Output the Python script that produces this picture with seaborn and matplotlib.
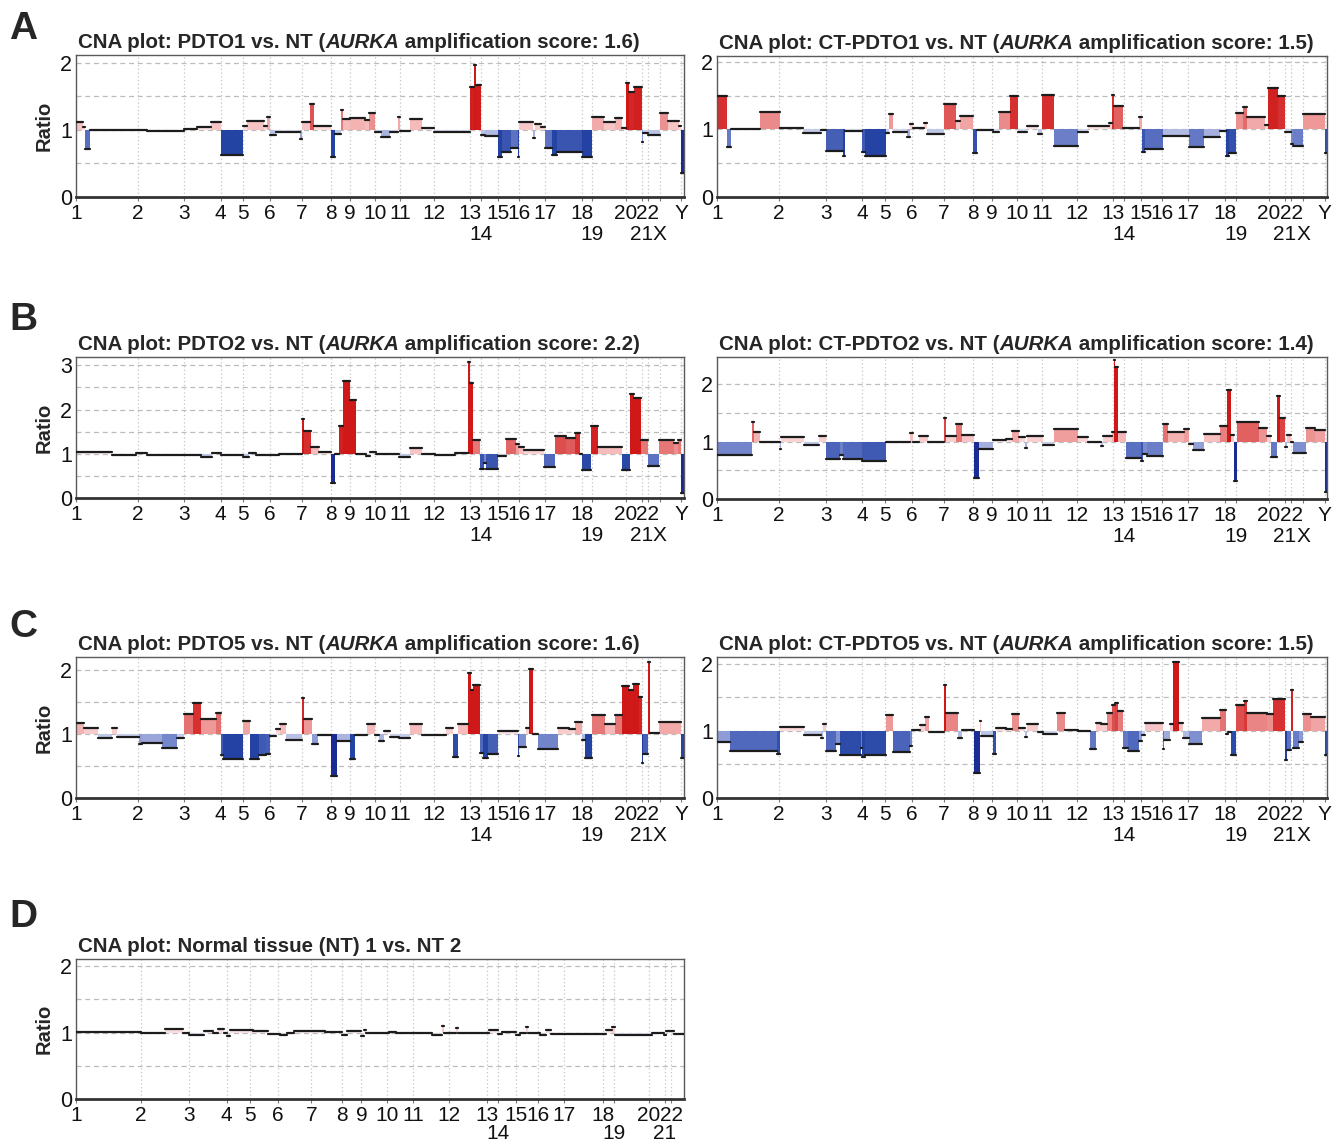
import numpy as np
import pandas as pd
import matplotlib
matplotlib.use("Agg")
import matplotlib.pyplot as plt
import seaborn as sns
from matplotlib.colors import LinearSegmentedColormap, Normalize

sns.set_theme(style="white")
plt.rcParams["font.family"] = ["Liberation Sans", "DejaVu Sans"]
TICK_FONT = ["Liberation Sans Narrow", "Liberation Sans", "DejaVu Sans"]

# Chromosome start positions on the plot's genome axis (0..1000)
CHROMS = ["1", "2", "3", "4", "5", "6", "7", "8", "9", "10", "11", "12",
          "13", "14", "15", "16", "17", "18", "19", "20", "21", "22", "X", "Y"]
CHROM_START = [0, 102, 178, 238, 275, 319, 372, 420, 451, 492, 533, 590,
               649, 667, 695, 730, 772, 833, 850, 905, 931, 941, 961, 996]
GENOME_END = 1000
AUTOSOME_END = 961
SECOND_ROW = ["14", "19", "21", "X"]

# Segments: (start, end, ratio)
pdto1 = [(0, 12, 1.12), (12, 15, 1.045), (15, 23, 0.71), (23, 117, 1.0), (117, 178, 0.98),
         (178, 199, 1.01), (199, 222, 1.045), (222, 238, 1.12), (238, 275, 0.62), (275, 282, 1.05),
         (282, 309, 1.13), (309, 315, 1.05), (315, 319, 1.19), (319, 330, 0.92), (330, 369, 0.965),
         (369, 372, 0.86), (372, 386, 1.12), (386, 391, 1.38), (391, 420, 1.06), (420, 426, 0.60),
         (426, 436, 0.93), (436, 440, 1.29), (440, 451, 1.155), (451, 476, 1.17), (476, 483, 1.15),
         (483, 492, 1.25), (492, 502, 0.96), (502, 517, 0.886), (517, 530, 0.96), (530, 533, 1.19),
         (533, 550, 0.985), (550, 569, 1.155), (569, 590, 1.02), (590, 649, 0.96), (649, 655, 1.63),
         (655, 658, 1.97), (658, 667, 1.66), (667, 674, 0.92), (674, 695, 0.90), (695, 702, 0.60),
         (702, 716, 0.66), (716, 727, 0.72), (727, 730, 0.60), (730, 752, 1.115), (752, 755, 0.88),
         (755, 765, 1.09), (765, 772, 1.045), (772, 784, 0.72), (784, 791, 0.62), (791, 833, 0.66),
         (833, 850, 0.60), (850, 869, 1.19), (869, 888, 1.12), (888, 899, 1.17), (899, 905, 1.02),
         (905, 910, 1.70), (910, 918, 1.57), (918, 931, 1.63), (931, 933, 0.81), (933, 941, 0.95),
         (941, 961, 0.92), (961, 975, 1.245), (975, 992, 1.13), (992, 996, 1.05), (996, 1000, 0.35)]

ct_pdto1 = [(0, 17, 1.49), (17, 23.5, 0.745), (23.5, 70, 1.0), (70, 103, 1.26), (103, 141, 1.025),
            (141, 170, 0.94), (170, 178, 0.99), (178, 206, 0.68), (206, 210, 0.60), (210, 238, 0.975),
            (238, 243, 0.67), (243, 277, 0.61), (277, 282, 0.94), (282, 288, 1.23), (288, 312, 0.96),
            (312, 317, 0.88), (317, 321, 1.08), (321, 339, 1.025), (339, 345, 1.09), (345, 372, 0.93),
            (372, 391, 1.37), (391, 399, 1.12), (399, 420, 1.2), (420, 426, 0.65), (426, 452, 0.99),
            (452, 462, 0.965), (462, 481, 1.26), (481, 494, 1.49), (494, 508, 0.96), (508, 526, 1.05),
            (526, 532, 0.93), (532, 533, 1.16), (533, 553, 1.51), (553, 591, 0.755), (591, 609, 0.96),
            (609, 643, 1.045), (643, 648, 1.1), (648, 650, 1.51), (650, 666, 1.35), (666, 691, 1.025),
            (691, 696, 1.19), (696, 702, 0.66), (702, 731, 0.71), (731, 774, 0.9), (774, 798, 0.74),
            (798, 824, 0.88), (824, 834, 0.975), (834, 840, 0.61), (840, 850, 0.65), (850, 862, 1.245),
            (862, 869, 1.33), (869, 898, 1.19), (898, 904, 1.07), (904, 919, 1.62), (919, 931, 1.49),
            (931, 941, 0.96), (941, 945, 0.78), (945, 960, 0.755), (960, 996, 1.23), (996, 1000, 0.65)]

pdto2 = [(0, 59, 1.03), (59, 99, 0.98), (99, 117, 1.01), (117, 205, 0.98), (205, 224, 0.93),
         (224, 239, 1.02), (239, 275, 0.965), (275, 285, 0.93), (285, 297, 1.02), (297, 334, 0.965),
         (334, 372, 0.99), (372, 376, 1.78), (376, 387, 1.51), (387, 400, 1.15), (400, 420, 1.04),
         (420, 426, 0.34), (426, 433, 0.99), (433, 439, 1.63), (439, 451, 2.64), (451, 461, 2.21),
         (461, 477, 0.99), (477, 484, 0.95), (484, 494, 1.04), (494, 532, 0.99), (532, 550, 0.93),
         (550, 569, 1.12), (569, 591, 0.99), (591, 624, 0.98), (624, 646, 1.02), (646, 649, 3.07),
         (649, 653, 2.6), (653, 665, 1.3), (665, 672, 0.66), (672, 675, 0.78), (675, 695, 0.66),
         (695, 707, 0.95), (707, 724, 1.34), (724, 729, 1.21), (729, 738, 1.15), (738, 771, 1.08),
         (771, 789, 0.7), (789, 807, 1.39), (807, 822, 1.36), (822, 829, 1.47), (829, 833, 1.0),
         (833, 848, 0.63), (848, 859, 1.62), (859, 899, 1.15), (899, 912, 0.63), (912, 918, 2.36),
         (918, 930, 2.27), (930, 941, 1.3), (941, 959, 0.72), (959, 984, 1.3), (984, 991, 1.25),
         (991, 996, 1.3), (996, 1000, 0.11)]

ct_pdto2 = [(0, 57, 0.77), (57, 61, 1.34), (61, 70, 1.17), (70, 103, 1.0), (103, 105, 0.87),
            (105, 143, 1.08), (143, 168, 0.94), (168, 178, 1.09), (178, 201, 0.69), (201, 206, 0.76),
            (206, 238, 0.70), (238, 277, 0.67), (277, 317, 0.995), (317, 321, 1.15), (321, 331, 1.0),
            (331, 346, 1.1), (346, 372, 1.0), (372, 376, 1.41), (376, 391, 1.09), (391, 402, 1.3),
            (402, 421, 1.12), (421, 429, 0.37), (429, 452, 0.88), (452, 474, 1.02), (474, 484, 1.05),
            (484, 495, 1.19), (495, 505, 1.075), (505, 509, 0.89), (509, 534, 1.09), (534, 553, 0.95),
            (553, 591, 1.22), (591, 609, 1.075), (609, 629, 1.0), (629, 633, 0.93), (633, 647, 1.09),
            (647, 650, 1.16), (650, 653, 2.43), (653, 657, 2.3), (657, 671, 1.16), (671, 695, 0.715),
            (695, 698, 0.66), (698, 705, 0.79), (705, 731, 0.755), (731, 740, 1.31), (740, 766, 1.17),
            (766, 774, 1.22), (774, 781, 0.96), (781, 798, 0.85), (798, 824, 1.14), (824, 836, 1.28),
            (836, 843, 1.9), (843, 847, 1.12), (847, 852, 0.32), (852, 888, 1.35), (888, 902, 1.24),
            (902, 909, 1.09), (909, 918, 0.74), (918, 923, 1.8), (923, 931, 1.41), (931, 934, 0.9),
            (934, 941, 1.12), (941, 945, 1.0), (945, 965, 0.8), (965, 981, 1.24), (981, 996, 1.21),
            (996, 1000, 0.12)]

pdto5 = [(0, 12.5, 1.17), (12.5, 37, 1.10), (37, 59, 0.93), (59, 67.5, 1.09), (67.5, 103, 0.95),
         (103, 109, 0.84), (109, 141, 0.86), (141, 167, 0.78), (167, 178, 0.94), (178, 192, 1.31),
         (192, 205.5, 1.48), (205.5, 231, 1.23), (231, 238, 1.32), (238, 242, 0.67), (242, 275, 0.60),
         (275, 286, 1.2), (286, 301, 0.6), (301, 312, 0.67), (312, 319, 0.68), (319, 329, 0.96),
         (329, 336, 1.07), (336, 345, 1.15), (345, 372, 0.91), (372, 374.5, 1.56), (374.5, 389, 1.23),
         (389, 398, 0.84), (398, 420, 0.98), (420, 429, 0.34), (429, 451, 0.89), (451, 459, 0.60),
         (459, 479, 0.99), (479, 492, 1.15), (492, 499, 0.98), (499, 506.5, 0.89), (506.5, 517.5, 1.04),
         (517.5, 532, 0.955), (532, 549, 0.94), (549, 569, 1.15), (569, 591, 0.99), (591, 609, 0.98),
         (609, 620, 1.09), (620, 628, 0.64), (628, 646, 1.15), (646, 649.6, 1.95), (649.6, 653.3, 1.69),
         (653.3, 665, 1.77), (665, 670, 0.7), (670, 679, 0.62), (679, 695, 0.68), (695, 727, 1.04),
         (727, 730, 0.65), (730, 741, 0.8), (741, 745, 1.09), (745, 752, 2.01), (752, 760, 1.0),
         (760, 793, 0.77), (793, 811, 1.1), (811, 822, 1.08), (822, 833, 1.19), (833, 838, 0.9),
         (838, 850, 0.62), (850, 870, 1.3), (870, 888, 1.16), (888, 899, 1.3), (899, 910, 1.75),
         (910, 917.5, 1.68), (917.5, 926, 1.78), (926, 931, 1.58), (931, 933, 0.55), (933, 941, 0.68),
         (941, 945, 2.13), (945, 959, 1.02), (959, 996, 1.19), (996, 1000, 0.62)]

ct_pdto5 = [(0, 21, 0.84), (21, 98, 0.70), (98, 103, 0.65), (103, 143, 1.06), (143, 170, 0.94),
            (170, 174, 0.9), (174, 178, 1.1), (178, 195, 0.70), (195, 201, 0.81), (201, 236, 0.64),
            (236, 238, 0.75), (238, 243, 0.61), (243, 277, 0.64), (277, 288, 1.23), (288, 317, 0.69),
            (317, 320, 0.78), (320, 333, 1.02), (333, 341, 1.08), (341, 348, 1.21), (348, 372, 0.98),
            (372, 376, 1.69), (376, 395, 1.27), (395, 402, 0.9), (402, 421, 1.02), (421, 431, 0.37),
            (431, 433, 1.14), (433, 452, 0.92), (452, 457, 0.65), (457, 474, 1.05), (474, 484, 1.03),
            (484, 495, 1.25), (495, 505, 1.05), (505, 509, 0.91), (509, 526, 1.1), (526, 534, 0.98),
            (534, 557, 0.955), (557, 571, 1.26), (571, 591, 1.02), (591, 612, 1.0), (612, 622, 0.73),
            (622, 629, 1.12), (629, 640, 1.1), (640, 648, 1.27), (648, 652, 1.39), (652, 657, 1.41),
            (657, 666, 1.29), (666, 673, 0.74), (673, 691, 0.70), (691, 696, 0.85), (696, 702, 0.94),
            (702, 731, 1.12), (731, 733, 0.73), (733, 743, 0.87), (743, 748, 1.1), (748, 757, 2.03),
            (757, 764, 1.12), (764, 774, 0.9), (774, 795, 0.8), (795, 824, 1.19), (824, 834, 1.31),
            (834, 838, 0.96), (838, 843, 0.99), (843, 850, 0.64), (850, 864, 1.39), (864, 869, 1.44),
            (869, 902, 1.27), (902, 912, 1.25), (912, 931, 1.47), (931, 934, 0.57), (934, 941, 0.72),
            (941, 945, 1.61), (945, 954, 0.75), (954, 961, 0.83), (961, 974, 1.25), (974, 996, 1.2),
            (996, 1000, 0.64)]

nt = [(0, 102, 1.005), (102, 140, 1.0), (140, 169, 1.05), (169, 178, 0.99), (178, 203, 0.97),
      (203, 216, 1.03), (216, 224, 0.99), (224, 234, 1.05), (234, 239, 0.99), (239, 244, 0.95),
      (244, 279, 1.04), (279, 304, 1.02), (304, 323, 0.985), (323, 333, 0.97), (333, 344, 1.0),
      (344, 393, 1.03), (393, 420, 1.01), (420, 428, 0.97), (428, 450, 1.03), (450, 455, 0.95),
      (455, 459, 1.04), (459, 494, 0.99), (494, 506, 1.01), (506, 563, 0.99), (563, 579, 0.97),
      (579, 582, 1.1), (582, 601, 1.0), (601, 604, 1.07), (604, 652, 1.0), (652, 667, 1.035),
      (667, 674, 0.98), (674, 696, 1.01), (696, 702, 0.97), (702, 712, 1.0), (712, 715, 1.08),
      (715, 734, 1.0), (734, 743, 0.96), (743, 750, 1.04), (750, 838, 0.98), (838, 847, 1.035),
      (847, 852, 1.09), (852, 911, 0.97), (911, 929, 0.99), (929, 933, 0.96), (933, 945, 1.02),
      (945, 961, 0.98)]

# ratio -> colour ramp (blue for loss, red for gain)
RATIO_NODES = [0.35, 0.62, 0.72, 0.85, 0.95, 1.0, 1.05, 1.15, 1.3, 1.45, 1.7]
NODE_COLORS = ["#1a2c94", "#2444a4", "#5d72c2", "#95a2d8", "#ccd2ec", "#f4f2f6",
               "#fbdede", "#f6bcbc", "#e67878", "#d83434", "#cf1818"]
lo, hi = RATIO_NODES[0], RATIO_NODES[-1]
cmap = LinearSegmentedColormap.from_list(
    "cna", [((v - lo) / (hi - lo), c) for v, c in zip(RATIO_NODES, NODE_COLORS)])
norm = Normalize(lo, hi, clip=True)

W, H = 1337, 1144
fig = plt.figure(figsize=(W / 100, H / 100), dpi=100)


def add_ax(x0, top, width, bottom):
    return fig.add_axes([x0 / W, 1 - bottom / H, width / W, (bottom - top) / H])


def draw_panel(ax, segs, ymax, yticks, xmax, title, score=None, ratio_label=True, row2_pad=17.5):
    df = pd.DataFrame(segs, columns=["start", "end", "ratio"])
    for c in CHROM_START:
        if 0 < c < xmax:
            ax.axvline(c, color="#c6c6c6", ls=(0, (1, 2)), lw=0.9, zorder=0)
    for y in np.arange(0.5, ymax, 0.5):
        ax.axhline(y, color="#bcbcbc", ls=(0, (4, 3)), lw=0.9, zorder=0)

    ax.bar(df["start"], df["ratio"] - 1, width=df["end"] - df["start"], bottom=1,
           align="edge", color=cmap(norm(df["ratio"].values)), linewidth=0, zorder=2)

    long = pd.DataFrame({
        "pos": np.r_[df["start"], df["end"]],
        "ratio": np.r_[df["ratio"], df["ratio"]],
        "seg": np.r_[df.index, df.index],
    })
    sns.lineplot(data=long, x="pos", y="ratio", units="seg", estimator=None,
                 color="#1c1c1c", lw=1.6, ax=ax, legend=False, zorder=3)

    ax.set_xlim(0, xmax)
    ax.set_ylim(0, ymax)
    ax.set_xlabel("")
    ax.set_ylabel("")

    shown = [(n, c) for n, c in zip(CHROMS, CHROM_START) if c < xmax]
    row1 = [(n, c) for n, c in shown if n not in SECOND_ROW]
    row2 = [(n, c) for n, c in shown if n in SECOND_ROW]
    ax.set_xticks([c for n, c in row1])
    ax.set_xticklabels([n for n, c in row1], fontsize=15)
    ax.set_xticks([c for n, c in row2], minor=True)
    ax.set_xticklabels([n for n, c in row2], minor=True, fontsize=15)
    ax.set_yticks(yticks)
    ax.set_yticklabels([str(t) for t in yticks], fontsize=15.5)
    for lbl in ax.get_xticklabels(which="both") + ax.get_yticklabels():
        lbl.set_family(TICK_FONT)
    ax.tick_params(axis="x", which="both", length=3, width=0.8, color="#777777",
                   labelcolor="#111111", direction="out", bottom=True)
    ax.tick_params(axis="x", which="major", pad=2)
    ax.tick_params(axis="x", which="minor", pad=row2_pad)
    ax.tick_params(axis="y", length=0, pad=3, labelcolor="#111111")
    for side in ["top", "left", "right"]:
        ax.spines[side].set_color("#5a5a5a")
        ax.spines[side].set_linewidth(1.0)
    ax.spines["bottom"].set_color("#333333")
    ax.spines["bottom"].set_linewidth(2.0)

    if ratio_label:
        ax.text(-0.052, 0.5, "Ratio", transform=ax.transAxes, rotation=90,
                ha="center", va="center", fontsize=14.5, fontweight="bold")

    t1 = ax.text(0.003, 1.02, title, transform=ax.transAxes, ha="left", va="bottom",
                 fontsize=14.8, fontweight="bold")
    if score is not None:
        t2 = ax.annotate("AURKA", xy=(1, 0), xycoords=t1, ha="left", va="bottom",
                         fontsize=14.8, fontweight="bold", fontstyle="italic")
        ax.annotate(" amplification score: %s)" % score, xy=(1, 0), xycoords=t2,
                    ha="left", va="bottom", fontsize=14.8, fontweight="bold")


LX, RX = 76, 717
LW, RW = 607.5, 610

axA1 = add_ax(LX, 55, LW, 196.7)
axA2 = add_ax(RX, 56, RW, 196.7)
axB1 = add_ax(LX, 357.3, LW, 498)
axB2 = add_ax(RX, 357.3, RW, 499)
axC1 = add_ax(LX, 657.3, LW, 797.7)
axC2 = add_ax(RX, 657.3, RW, 797.7)
axD = add_ax(LX, 959.3, 608, 1099.3)

draw_panel(axA1, pdto1, 2.115, [0, 1, 2], GENOME_END, "CNA plot: PDTO1 vs. NT (", "1.6")
draw_panel(axA2, ct_pdto1, 2.09, [0, 1, 2], GENOME_END, "CNA plot: CT-PDTO1 vs. NT (", "1.5", ratio_label=False)
draw_panel(axB1, pdto2, 3.18, [0, 1, 2, 3], GENOME_END, "CNA plot: PDTO2 vs. NT (", "2.2")
draw_panel(axB2, ct_pdto2, 2.47, [0, 1, 2], GENOME_END, "CNA plot: CT-PDTO2 vs. NT (", "1.4", ratio_label=False)
draw_panel(axC1, pdto5, 2.2, [0, 1, 2], GENOME_END, "CNA plot: PDTO5 vs. NT (", "1.6")
draw_panel(axC2, ct_pdto5, 2.1, [0, 1, 2], GENOME_END, "CNA plot: CT-PDTO5 vs. NT (", "1.5", ratio_label=False)
draw_panel(axD, nt, 2.1, [0, 1, 2], AUTOSOME_END, "CNA plot: Normal tissue (NT) 1 vs. NT 2", row2_pad=14.5)

for letter, base in [("A", 39), ("B", 330), ("C", 637), ("D", 927)]:
    fig.text(9 / W, 1 - base / H, letter, ha="left", va="baseline",
             fontsize=28, fontweight="bold")

fig.savefig("out.png", dpi=100)
